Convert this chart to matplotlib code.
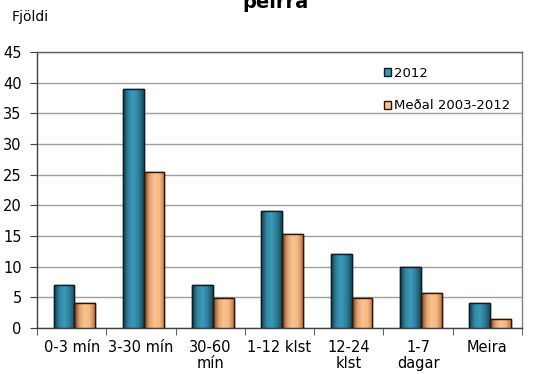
import matplotlib
matplotlib.use("Agg")
import matplotlib.pyplot as plt
import numpy as np
from matplotlib.colors import LinearSegmentedColormap

categories = ["0-3 mín", "3-30 mín", "30-60\nmín", "1-12 klst", "12-24\nklst", "1-7\ndagar", "Meira"]
series_2012 = [7, 39, 7, 19, 12, 10, 4]
series_avg = [4, 25.4, 4.9, 15.4, 4.9, 5.7, 1.4]
series_names = ["2012", "Meðal 2003-2012"]
yticks = [0, 5, 10, 15, 20, 25, 30, 35, 40, 45]

plt.rcParams['font.family'] = ['DejaVu Sans']

fig = plt.figure(figsize=(5.5, 3.74), dpi=100)
ax = fig.add_axes([37/550, 1 - 328/374, (522-37)/550, (328-52)/374])

x = np.arange(len(categories))
w = 0.3
off = 0.04
b1 = ax.bar(x - w/2 + off, series_2012, w, color="#3A93B0", edgecolor="#0d1f26", linewidth=1.0, label=series_names[0], zorder=3)
b2 = ax.bar(x + w/2 + off, series_avg, w, color="#F8C08C", edgecolor="#2a1508", linewidth=1.0, label=series_names[1], zorder=3)

cm_blue = LinearSegmentedColormap.from_list("b", ["#143a48", "#2f86a3", "#3d9ab9", "#2c7f9a", "#1a4b5c"])
cm_or = LinearSegmentedColormap.from_list("o", ["#6a3616", "#e0a070", "#f9c48f", "#f4b880", "#c07a45"])
grad = np.linspace(0, 1, 64).reshape(1, -1)
for bars, cm in ((b1, cm_blue), (b2, cm_or)):
    for p in bars:
        x0, y0 = p.get_x(), p.get_y()
        im = ax.imshow(grad, cmap=cm, aspect="auto", extent=(x0, x0 + p.get_width(), y0, y0 + p.get_height()), zorder=3.5, interpolation="bilinear")
        im.set_clip_path(p)
    for p in bars:
        ax.add_patch(plt.Rectangle((p.get_x(), p.get_y()), p.get_width(), p.get_height(), fill=False, edgecolor=p.get_edgecolor(), linewidth=1.0, zorder=4))

ax.set_xlim(-0.5, len(categories) - 0.5)
ax.set_ylim(0, 45)
ax.set_yticks(yticks)
ax.set_yticklabels([str(v) for v in yticks], fontsize=10.5)
ax.yaxis.grid(True, color="#a0a0a0", linewidth=1.0, zorder=0)
ax.set_axisbelow(True)

ax.set_xticks(x)
ax.set_xticklabels(categories, fontsize=10.5, linespacing=1.05)
ax.tick_params(axis="x", length=0, pad=9)
ax.set_xticks(np.arange(-0.5, len(categories)), minor=True)
ax.tick_params(axis="x", which="minor", length=5, color="#404040")
ax.tick_params(axis="y", length=5, color="#404040", pad=6)

for s in ax.spines.values():
    s.set_color("#404040")
    s.set_linewidth(1.0)
ax.spines["right"].set_color("#808080")
ax.spines["top"].set_color("#606060")

leg = ax.legend(loc="upper left", bbox_to_anchor=(0.69, 0.99), frameon=False, fontsize=9.5,
                handlelength=0.6, handleheight=0.6, handletextpad=0.2, labelspacing=1.5)

fig.text(12/550, 1 - 17/374, "Fjöldi", fontsize=10, va="center", ha="left")
fig.text(0.5, 1 - 3/374, "þeirra", fontsize=14, fontweight="bold", va="center", ha="center")

fig.savefig("out.png", dpi=100)
